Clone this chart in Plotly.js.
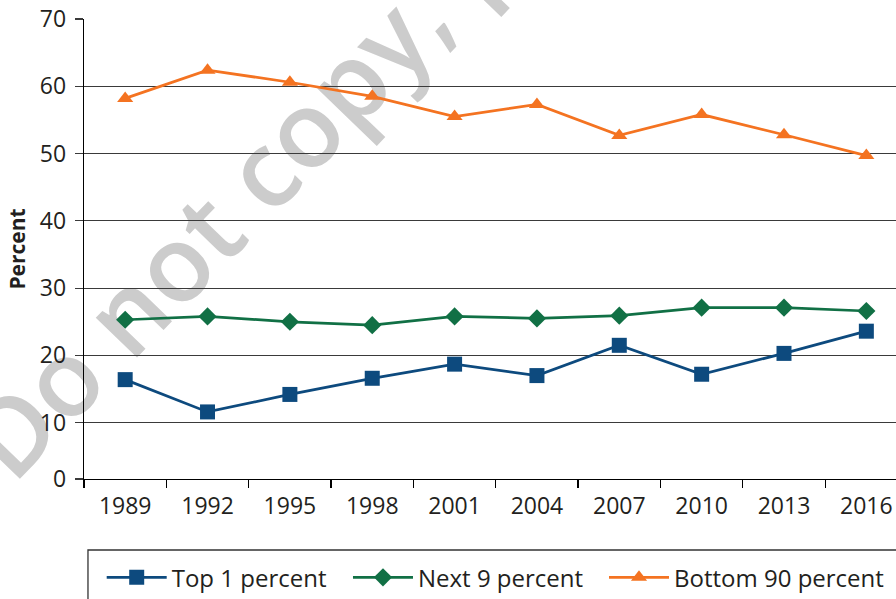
<!DOCTYPE html>
<html>
<head>
<meta charset="utf-8">
<script src="https://cdn.plot.ly/plotly-3.0.1.min.js"></script>
<style>
  html, body { margin: 0; padding: 0; background: #ffffff; }
  #wrap { position: relative; width: 896px; height: 599px; overflow: hidden; }
  #wm { position: absolute; left: 0; top: 0; z-index: 0; }
  #chart { position: absolute; left: 0; top: 0; width: 896px; height: 599px; z-index: 1; }
</style>
</head>
<body>
<div id="wrap">
  <svg id="wm" width="896" height="599">
    <text x="13" y="486" transform="rotate(-46 13 486)" font-family="Open Sans" font-weight="600" font-size="106" fill="#cccccc">Do not copy, post, or distribute</text>
  </svg>
  <div id="chart"></div>
</div>
<script>
// Data
const years = ["1989", "1992", "1995", "1998", "2001", "2004", "2007", "2010", "2013", "2016"];
const top1 = [16.4, 11.6, 14.2, 16.6, 18.7, 17.0, 21.5, 17.2, 20.3, 23.6];
const next9 = [25.3, 25.8, 25.0, 24.5, 25.8, 25.5, 25.9, 27.1, 27.1, 26.6];
const bottom90 = [58.2, 62.4, 60.6, 58.5, 55.5, 57.3, 52.7, 55.8, 52.8, 49.7];
const seriesNames = ["Top 1 percent", "Next 9 percent", "Bottom 90 percent"];
// The reference draws its "0" baseline slightly above true zero
const yBottom = 1.63;
const yTickVals = [yBottom, 10, 20, 30, 40, 50, 60, 70];
const yTickText = ["0", "10", "20", "30", "40", "50", "60", "70"];

const fontFam = "Open Sans, Noto Sans, sans-serif";
const textColor = "#231f20";

const traces = [
  {
    x: years, y: top1, name: seriesNames[0], type: "scatter", mode: "lines+markers",
    legend: "legend",
    line: { color: "#0d4a7e", width: 2.75 },
    marker: { symbol: "square", size: 15, color: "#0d4a7e" }
  },
  {
    x: years, y: next9, name: seriesNames[1], type: "scatter", mode: "lines+markers",
    legend: "legend2",
    line: { color: "#117045", width: 2.75 },
    marker: { symbol: "diamond", size: 14, color: "#117045" }
  },
  {
    x: years, y: bottom90, name: seriesNames[2], type: "scatter", mode: "lines+markers",
    legend: "legend3",
    line: { color: "#f47321", width: 2.75 },
    marker: { symbol: "triangle-up", size: 14, color: "#f47321" }
  }
];

function legendAt(xPaper) {
  return {
    orientation: "h",
    x: xPaper, xanchor: "left",
    y: -0.1657, yanchor: "top",
    bgcolor: "rgba(0,0,0,0)",
    borderwidth: 0,
    itemwidth: 60,
    font: { family: fontFam, size: 24, color: textColor },
    itemclick: false, itemdoubleclick: false
  };
}

const layout = {
  width: 896, height: 599,
  margin: { l: 84, r: 0, t: 19, b: 120, autoexpand: false },
  paper_bgcolor: "rgba(0,0,0,0)",
  plot_bgcolor: "rgba(0,0,0,0)",
  font: { family: fontFam, size: 23, color: textColor },
  showlegend: true,
  xaxis: {
    type: "category",
    range: [-0.5, 9.36],
    showgrid: false,
    showline: true, linecolor: "#000000", linewidth: 1.3,
    ticks: "outside", tickson: "boundaries", ticklen: 8, tickwidth: 1.3, tickcolor: "#000000",
    ticklabelstandoff: 6,
    tickfont: { family: fontFam, size: 23, color: textColor },
    zeroline: false, fixedrange: true
  },
  yaxis: {
    range: [yBottom, 70],
    tickvals: yTickVals, ticktext: yTickText,
    showgrid: true, gridcolor: "#3a3a3a", gridwidth: 1.2,
    showline: true, linecolor: "#000000", linewidth: 1.3,
    ticks: "outside", ticklen: 8, tickwidth: 1.2, tickcolor: "#3a3a3a",
    ticklabelstandoff: 4,
    tickfont: { family: fontFam, size: 23, color: textColor },
    zeroline: false, fixedrange: true,
    title: { text: "<b>Percent</b>", font: { family: fontFam, size: 21, color: textColor }, standoff: 8 }
  },
  legend: legendAt(0.0218),
  legend2: legendAt(0.3251),
  legend3: legendAt(0.6404),
  shapes: [
    {
      type: "rect", xref: "paper", yref: "paper",
      x0: 0.0049, x1: 1.1, y0: -0.1543, y1: -0.3,
      line: { color: "#333333", width: 1.3 }, fillcolor: "rgba(0,0,0,0)", layer: "above"
    }
  ]
};

Plotly.newPlot("chart", traces, layout, { staticPlot: true, displayModeBar: false });
</script>
</body>
</html>
